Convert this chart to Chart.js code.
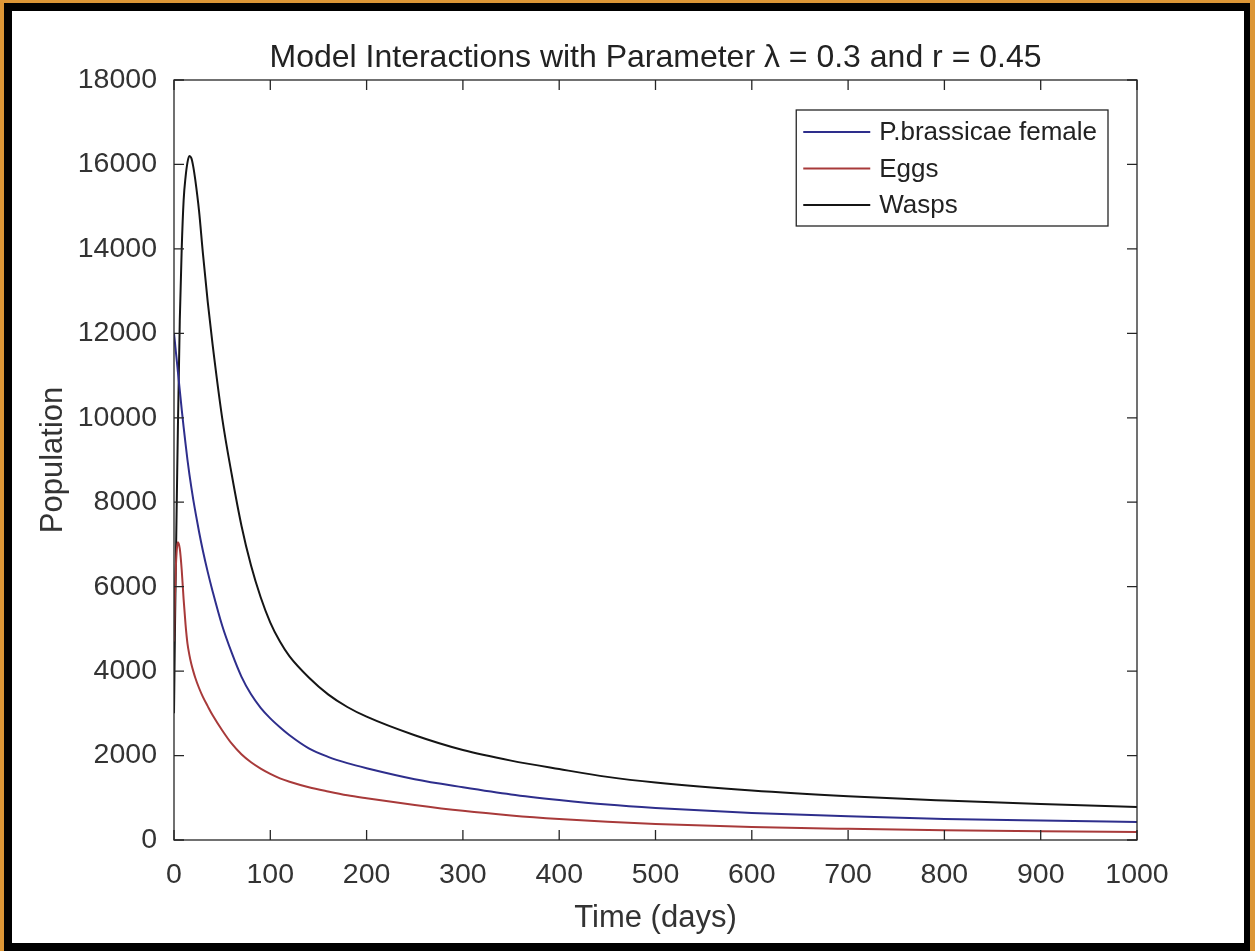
<!DOCTYPE html>
<html>
<head>
<meta charset="utf-8">
<title>Model Interactions</title>
<script src="https://cdn.jsdelivr.net/npm/chart.js@4.4.0/dist/chart.umd.min.js"></script>
<style>
  html, body { margin: 0; padding: 0; }
  body { width: 1255px; height: 951px; background: #dc9636; overflow: hidden; position: relative; }
  #frame { position: absolute; left: 4px; top: 3px; width: 1246px; height: 948px; background: #000; }
  #wrap { position: absolute; left: 8px; top: 8px; width: 1232px; height: 932px; background: #fff; }
</style>
</head>
<body>
<div id="frame"><div id="wrap"><canvas id="myChart" width="1232" height="932"></canvas></div></div>
<script>
// time points (days) and the three populations
const timeDays = [0, 1, 2, 3, 4, 6, 8, 10, 12, 14, 16, 18, 20, 22, 26, 30, 35, 40,
  50, 60, 70, 80, 90, 100, 110, 120, 140, 160, 180, 200,
  250, 300, 350, 400, 450, 500, 600, 700, 800, 900, 1000];
const femaleValues = [12000, 11780, 11550, 11330, 11100, 10650, 10200, 9780, 9380, 9000, 8660, 8350,
  8060, 7800, 7300, 6850, 6350, 5900,
  5080, 4430, 3870, 3450, 3130, 2880, 2670, 2480, 2170, 1970, 1820, 1700,
  1440, 1250, 1080, 950, 840, 760, 640, 560, 500, 460, 426];
const eggValues = [4700, 5800, 6500, 6900, 7050, 6900, 6400, 5700, 5100, 4650, 4380, 4170,
  4000, 3850, 3600, 3390, 3170, 2960,
  2600, 2280, 2030, 1840, 1690, 1565, 1460, 1380, 1250, 1150, 1060, 990,
  830, 690, 580, 495, 430, 380, 310, 265, 230, 205, 190];
const waspValues = [3000, 5000, 6700, 8200, 9700, 12300, 14000, 15150, 15700, 16050, 16200, 16150,
  15950, 15650, 14900, 13900, 12750, 11750,
  10000, 8650, 7450, 6500, 5750, 5150, 4700, 4350, 3850, 3450, 3150, 2920,
  2480, 2130, 1880, 1680, 1495, 1360, 1170, 1035, 935, 850, 782];

const seriesNames = ["P.brassicae female", "Eggs", "Wasps"];
const xTickValues = [0, 100, 200, 300, 400, 500, 600, 700, 800, 900, 1000];
const yTickValues = [0, 2000, 4000, 6000, 8000, 10000, 12000, 14000, 16000, 18000];

const FONT = "'Liberation Sans', Arial, Helvetica, sans-serif";
const AXIS_COLOR = "#262626";

function toPoints(values) {
  return values.map((v, i) => ({ x: timeDays[i], y: v }));
}

// MATLAB-like box with inward ticks on all four sides
const boxAxes = {
  id: "boxAxes",
  afterDatasetsDraw(chart) {
    const { ctx, chartArea: a, scales: { x, y } } = chart;
    ctx.save();
    ctx.strokeStyle = AXIS_COLOR;
    ctx.lineWidth = 1.3;
    ctx.beginPath();
    x.ticks.forEach((t) => {
      const px = x.getPixelForValue(t.value);
      ctx.moveTo(px, a.bottom);
      ctx.lineTo(px, a.bottom - 10);
      ctx.moveTo(px, a.top);
      ctx.lineTo(px, a.top + 10);
    });
    y.ticks.forEach((t) => {
      const py = y.getPixelForValue(t.value);
      ctx.moveTo(a.left, py);
      ctx.lineTo(a.left + 10, py);
      ctx.moveTo(a.right, py);
      ctx.lineTo(a.right - 10, py);
    });
    ctx.stroke();
    ctx.strokeRect(a.left, a.top, a.right - a.left, a.bottom - a.top);
    ctx.restore();
  },
};

// legend box in the upper right corner of the axes
const boxLegend = {
  id: "boxLegend",
  afterDraw(chart) {
    const { ctx, chartArea: a } = chart;
    const sets = chart.data.datasets;
    ctx.save();
    ctx.font = "26px " + FONT;
    const textW = Math.max(...sets.map((d) => ctx.measureText(d.label).width));
    const w = 7 + 67 + 9 + textW + 11;
    const h = 116;
    const left = a.right - 29 - w;
    const top = a.top + 30;
    ctx.fillStyle = "#fff";
    ctx.fillRect(left, top, w, h);
    ctx.strokeStyle = AXIS_COLOR;
    ctx.lineWidth = 1.3;
    ctx.strokeRect(left, top, w, h);
    ctx.textBaseline = "middle";
    sets.forEach((d, i) => {
      const cy = top + 22 + i * 36.5;
      ctx.strokeStyle = d.borderColor;
      ctx.lineWidth = 2;
      ctx.beginPath();
      ctx.moveTo(left + 7, cy);
      ctx.lineTo(left + 74, cy);
      ctx.stroke();
      ctx.fillStyle = "#222";
      ctx.fillText(d.label, left + 83, cy + 1);
    });
    ctx.restore();
  },
};

const ctx = document.getElementById("myChart").getContext("2d");
const chart = new Chart(ctx, {
  type: "line",
  data: {
    datasets: [
      { label: seriesNames[0], data: toPoints(femaleValues), borderColor: "#2e2e8c" },
      { label: seriesNames[1], data: toPoints(eggValues), borderColor: "#a83a3a" },
      { label: seriesNames[2], data: toPoints(waspValues), borderColor: "#151515" },
    ],
  },
  options: {
    responsive: false,
    animation: false,
    devicePixelRatio: 1,
    layout: { padding: { left: 0, right: 107, top: 0, bottom: 0 } },
    elements: {
      point: { radius: 0 },
      line: { borderWidth: 2, cubicInterpolationMode: "monotone", fill: false },
    },
    plugins: {
      legend: { display: false },
      tooltip: { enabled: false },
      title: {
        display: true,
        fullSize: false,
        text: "Model Interactions with Parameter \u03bb = 0.3 and r = 0.45",
        color: "#222",
        font: { family: FONT, size: 32, weight: "normal" },
        padding: { top: 28, bottom: 2.6 },
      },
    },
    scales: {
      x: {
        type: "linear",
        min: 0,
        max: 1000,
        afterBuildTicks: (s) => { s.ticks = xTickValues.map((v) => ({ value: v })); },
        afterFit: (s) => { s.height = 103; },
        grid: { display: false, drawTicks: false },
        border: { display: false },
        ticks: {
          color: "#333",
          padding: 18,
          maxRotation: 0,
          font: { family: FONT, size: 28.5 },
          callback: (v) => String(v),
        },
        title: {
          display: true,
          text: "Time (days)",
          color: "#333",
          font: { family: FONT, size: 31 },
          padding: { top: 0, bottom: 6 },
        },
      },
      y: {
        type: "linear",
        min: 0,
        max: 18000,
        afterBuildTicks: (s) => { s.ticks = yTickValues.map((v) => ({ value: v })); },
        afterFit: (s) => { s.width = 162; },
        grid: { display: false, drawTicks: false },
        border: { display: false },
        ticks: {
          color: "#333",
          padding: 17,
          font: { family: FONT, size: 28.5 },
          callback: (v) => String(v),
        },
        title: {
          display: true,
          text: "Population",
          color: "#333",
          font: { family: FONT, size: 31 },
          padding: { top: 23, bottom: 0 },
        },
      },
    },
  },
  plugins: [boxAxes, boxLegend],
});
</script>
</body>
</html>
